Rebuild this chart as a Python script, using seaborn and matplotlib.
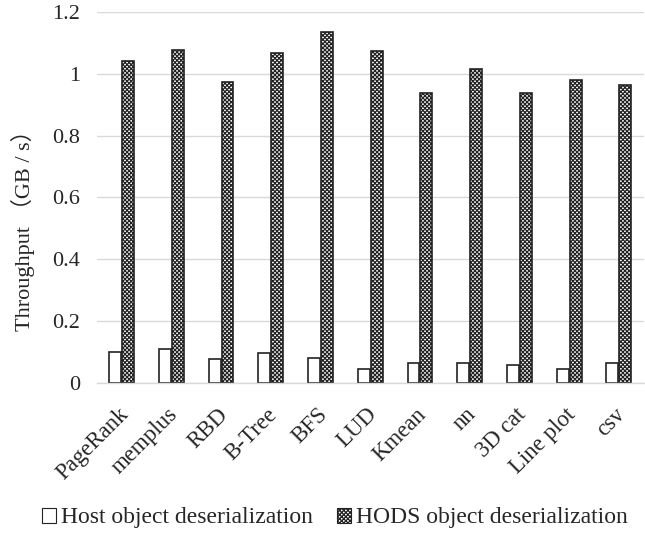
import matplotlib
matplotlib.use("Agg")
import matplotlib.pyplot as plt
import matplotlib.transforms as mtransforms
import seaborn as sns
import pandas as pd

categories = ["PageRank", "memplus", "RBD", "B-Tree", "BFS", "LUD",
              "Kmean", "nn", "3D cat", "Line plot", "csv"]
host_values = [0.102, 0.111, 0.078, 0.097, 0.082, 0.046,
               0.066, 0.066, 0.057, 0.046, 0.066]
hods_values = [1.041, 1.076, 0.974, 1.066, 1.134, 1.072,
               0.939, 1.016, 0.939, 0.979, 0.964]
series_names = ["Host object deserialization", "HODS object deserialization"]
y_ticks = [0, 0.2, 0.4, 0.6, 0.8, 1, 1.2]
y_tick_labels = ["0", "0.2", "0.4", "0.6", "0.8", "1", "1.2"]

df = pd.DataFrame({
    "category": categories * 2,
    "value": host_values + hods_values,
    "series": [series_names[0]] * len(categories) + [series_names[1]] * len(categories),
})

sns.set_theme(style="white")
plt.rcParams["font.family"] = ["Liberation Serif", "Noto Sans CJK SC"]
plt.rcParams["hatch.linewidth"] = 0.9

fig = plt.figure(figsize=(6.45, 5.35), dpi=100)
ax = fig.add_axes([0.150, 0.284, 0.848, 0.694])

sns.barplot(data=df, x="category", y="value", hue="series",
            palette=["white", "white"], width=0.52, gap=0.08,
            edgecolor="#222222", linewidth=1.2, ax=ax, legend=False)

n = len(categories)
for i, p in enumerate(ax.patches[:2 * n]):
    if i >= n:
        p.set_hatch("xxxxxxxx")

ax.set_ylim(0, 1.2)
ax.set_xlim(-0.5, n - 0.5)
ax.set_yticks(y_ticks)
ax.set_yticklabels(y_tick_labels, fontsize=16)
ax.yaxis.grid(True, color="#d9d9d9", linewidth=1.0)
ax.set_axisbelow(True)
for s in ["top", "right", "left"]:
    ax.spines[s].set_visible(False)
ax.spines["bottom"].set_color("#d9d9d9")
ax.spines["bottom"].set_linewidth(1.0)
ax.tick_params(axis="both", length=0)
ax.tick_params(axis="y", pad=12)
ax.tick_params(axis="x", pad=15)

ax.set_xlabel("")
ax.set_ylabel("Throughput （GB / s）", fontsize=16)
ax.yaxis.set_label_coords(-0.112, 0.426)

offset = mtransforms.ScaledTranslation(-3 / 72, 0, fig.dpi_scale_trans)
ax.set_xticks(range(n))
ax.set_xticklabels(categories, fontsize=16.5, rotation=45, ha="right",
                   rotation_mode="anchor")
for lbl in ax.get_xticklabels():
    lbl.set_transform(lbl.get_transform() + offset)

handles = [plt.Rectangle((0, 0), 1, 1, facecolor="white", edgecolor="#222222", linewidth=0.8),
           plt.Rectangle((0, 0), 1, 1, facecolor="white", edgecolor="#222222", linewidth=0.8,
                         hatch="xxxxxxxx")]
fig.legend(handles, series_names, loc="center", bbox_to_anchor=(0.519, 0.032),
           ncol=2, frameon=False, fontsize=17, handlelength=0.6, handleheight=0.6,
           handletextpad=0.2, columnspacing=1.0)

fig.savefig("out.png", dpi=100)
